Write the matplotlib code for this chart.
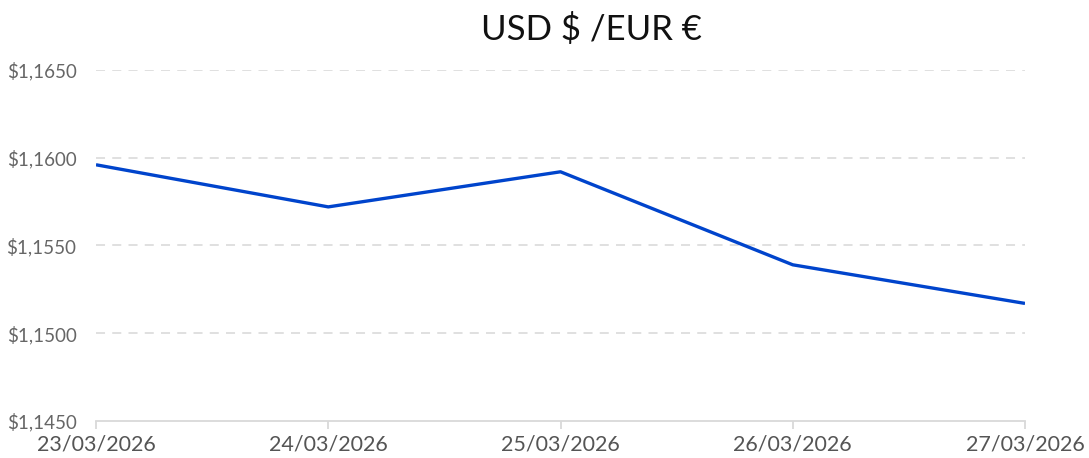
import matplotlib
matplotlib.use("Agg")
import matplotlib.pyplot as plt

dates = ["23/03/2026", "24/03/2026", "25/03/2026", "26/03/2026", "27/03/2026"]
rates = [1.1596, 1.1572, 1.1592, 1.1539, 1.1517]
yticks = [1.1450, 1.1500, 1.1550, 1.1600, 1.1650]
title = "USD $ /EUR €"

plt.rcParams['font.family'] = ['Lato', 'DejaVu Sans']

fig = plt.figure(figsize=(10.89, 4.58), dpi=100)
ax = fig.add_axes([96/1089, 1-421/458, (1025-96)/1089, (421-70)/458])

x = list(range(len(dates)))
ax.plot(x, rates, color="#0044CC", linewidth=2.4, solid_capstyle="butt", zorder=3)

ax.set_xlim(0, len(dates)-1)
ax.set_ylim(yticks[0], yticks[-1])
ax.set_yticks(yticks)
ax.set_yticklabels([("$%.4f" % v).replace(".", ",") for v in yticks])
ax.set_xticks(x)
ax.set_xticklabels(dates)

for v in yticks[1:]:
    ax.axhline(v, color="#dddddd", linewidth=1.3, linestyle=(0, (5, 4)), zorder=1)

for s in ["top", "right", "left"]:
    ax.spines[s].set_visible(False)
ax.spines["bottom"].set_color("#d9d9d9")
ax.spines["bottom"].set_linewidth(1.3)

ax.tick_params(axis="y", length=0, pad=14, labelsize=13.5, labelcolor="#666666")
ax.tick_params(axis="x", length=6, width=1.3, color="#d9d9d9", pad=4, labelsize=15.5, labelcolor="#555555")

fig.text(591/1089, 1-29/458, title, ha="center", va="center", fontsize=25, color="#111111")

fig.savefig("out.png", dpi=100)
